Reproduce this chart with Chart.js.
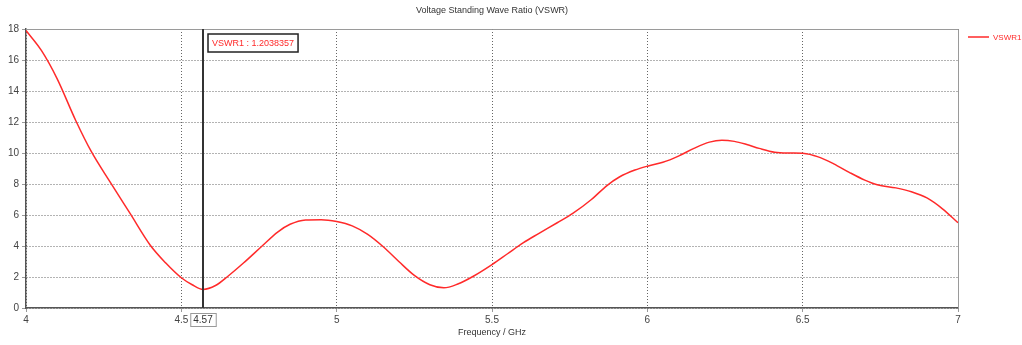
<!DOCTYPE html>
<html>
<head>
<meta charset="utf-8">
<script src="https://cdn.jsdelivr.net/npm/chart.js@4/dist/chart.umd.min.js"></script>
<style>
    html, body { margin: 0; padding: 0; background: #fff; }
    #chart { display: block; }
</style>
</head>
<body>
<canvas id="chart" width="1022" height="345"></canvas>
<script>
// frequency samples (GHz) and VSWR
const freq = [4.0, 4.05, 4.1, 4.16, 4.21, 4.27, 4.335, 4.4, 4.45, 4.5, 4.535, 4.57, 4.61, 4.65, 4.7, 4.76,
    4.81, 4.85, 4.9, 4.95, 5.0, 5.05, 5.1, 5.15, 5.2, 5.25, 5.3, 5.345, 5.39, 5.44, 5.5, 5.55, 5.6, 5.65,
    5.71, 5.76, 5.82, 5.87, 5.91, 5.96, 6.0, 6.05, 6.1, 6.15, 6.2, 6.24, 6.28, 6.32, 6.36, 6.41, 6.46,
    6.5, 6.55, 6.6, 6.65, 6.7, 6.74, 6.8, 6.85, 6.9, 6.95, 7.0];
const vswr = [17.9, 16.6, 14.8, 12.1, 10.1, 8.15, 6.1, 4.05, 2.9, 1.95, 1.5, 1.2, 1.45, 2.05, 2.9, 4.0,
    4.9, 5.4, 5.68, 5.7, 5.58, 5.3, 4.75, 3.95, 3.0, 2.1, 1.5, 1.3, 1.55, 2.05, 2.8, 3.5, 4.2, 4.8,
    5.5, 6.1, 7.0, 7.9, 8.45, 8.9, 9.15, 9.4, 9.8, 10.3, 10.7, 10.82, 10.75, 10.55, 10.3, 10.05, 10.0,
    9.98, 9.75, 9.3, 8.75, 8.25, 7.95, 7.75, 7.5, 7.1, 6.4, 5.5];

const xTicks = [4, 4.5, 5, 5.5, 6, 6.5, 7];
const yTicks = [0, 2, 4, 6, 8, 10, 12, 14, 16, 18];

const seriesName = 'VSWR1';
const markerFreq = 4.57;
const markerValue = '1.2038357';
const chartTitle = 'Voltage Standing Wave Ratio (VSWR)';
const xTitle = 'Frequency / GHz';

const FONT = '"Liberation Sans", Arial, sans-serif';
const RED = '#ff2a2a';

const decorations = {
    id: 'decorations',
    afterDraw(chart) {
        const ctx = chart.ctx;
        const area = chart.chartArea;
        const xs = chart.scales.x;
        ctx.save();

        // plot frame
        ctx.strokeStyle = '#9a9a9a';
        ctx.lineWidth = 1;
        ctx.beginPath();
        ctx.moveTo(area.left, area.top + 0.5);
        ctx.lineTo(area.right + 0.5, area.top + 0.5);
        ctx.lineTo(area.right + 0.5, area.bottom);
        ctx.stroke();

        // marker line
        const mx = Math.round(xs.getPixelForValue(markerFreq));
        ctx.strokeStyle = '#333';
        ctx.lineWidth = 2;
        ctx.beginPath();
        ctx.moveTo(mx, area.top);
        ctx.lineTo(mx, area.bottom);
        ctx.stroke();

        // marker value box
        ctx.font = '9px ' + FONT;
        const label = seriesName + ' : ' + markerValue;
        const lw = ctx.measureText(label).width;
        ctx.fillStyle = '#fff';
        ctx.fillRect(mx + 5, 34, lw + 8, 18);
        ctx.strokeStyle = '#222';
        ctx.lineWidth = 1.5;
        ctx.strokeRect(mx + 5, 34, lw + 8, 18);
        ctx.fillStyle = RED;
        ctx.textBaseline = 'middle';
        ctx.textAlign = 'left';
        ctx.fillText(label, mx + 9, 43.5);

        // marker x label
        ctx.font = '10px ' + FONT;
        const fl = String(markerFreq);
        const fw = ctx.measureText(fl).width;
        ctx.fillStyle = '#fff';
        ctx.fillRect(mx - fw / 2 - 3, 313, fw + 6, 13);
        ctx.strokeStyle = '#999';
        ctx.lineWidth = 1;
        ctx.strokeRect(mx - fw / 2 - 3 + 0.5, 313.5, fw + 6, 13);
        ctx.fillStyle = '#333';
        ctx.textAlign = 'center';
        ctx.fillText(fl, mx, 320);

        // title and axis title
        const cx = (area.left + area.right) / 2;
        ctx.font = '9px ' + FONT;
        ctx.fillStyle = '#333';
        ctx.fillText(chartTitle, cx, 11);
        ctx.fillText(xTitle, cx, 333);

        // legend
        ctx.strokeStyle = RED;
        ctx.lineWidth = 1.5;
        ctx.beginPath();
        ctx.moveTo(968, 37);
        ctx.lineTo(989, 37);
        ctx.stroke();
        ctx.font = '8px ' + FONT;
        ctx.fillStyle = RED;
        ctx.textAlign = 'left';
        ctx.fillText(seriesName, 993, 37.5);

        ctx.restore();
    }
};

new Chart(document.getElementById('chart'), {
    type: 'line',
    data: {
        datasets: [{
            label: seriesName,
            data: freq.map((f, i) => ({ x: f, y: vswr[i] })),
            borderColor: RED,
            borderWidth: 1.5,
            pointRadius: 0,
            cubicInterpolationMode: 'monotone',
            fill: false,
        }]
    },
    options: {
        responsive: false,
        animation: false,
        layout: { padding: { top: 29, right: 64, left: 0, bottom: 0 } },
        plugins: {
            legend: { display: false },
            title: { display: false },
            tooltip: { enabled: false },
        },
        scales: {
            x: {
                type: 'linear',
                min: 4,
                max: 7,
                afterBuildTicks: scale => { scale.ticks = xTicks.map(v => ({ value: v })); },
                afterFit: scale => { scale.height = 37; },
                grid: { color: '#666', tickLength: 4, tickColor: '#999', tickBorderDash: [] },
                border: { display: true, color: '#555', width: 1.5, dash: [1, 2] },
                ticks: { color: '#444', font: { family: FONT, size: 10 }, padding: 2, maxRotation: 0, callback: v => String(v) },
            },
            y: {
                min: 0,
                max: 18,
                afterBuildTicks: scale => { scale.ticks = yTicks.map(v => ({ value: v })); },
                afterFit: scale => { scale.width = 26; },
                grid: { color: '#666', tickLength: 4, tickColor: '#999', tickBorderDash: [] },
                border: { display: true, color: '#555', width: 1.5, dash: [1, 2] },
                ticks: { color: '#444', font: { family: FONT, size: 10 }, padding: 3 },
            }
        }
    },
    plugins: [decorations]
});
</script>
</body>
</html>
